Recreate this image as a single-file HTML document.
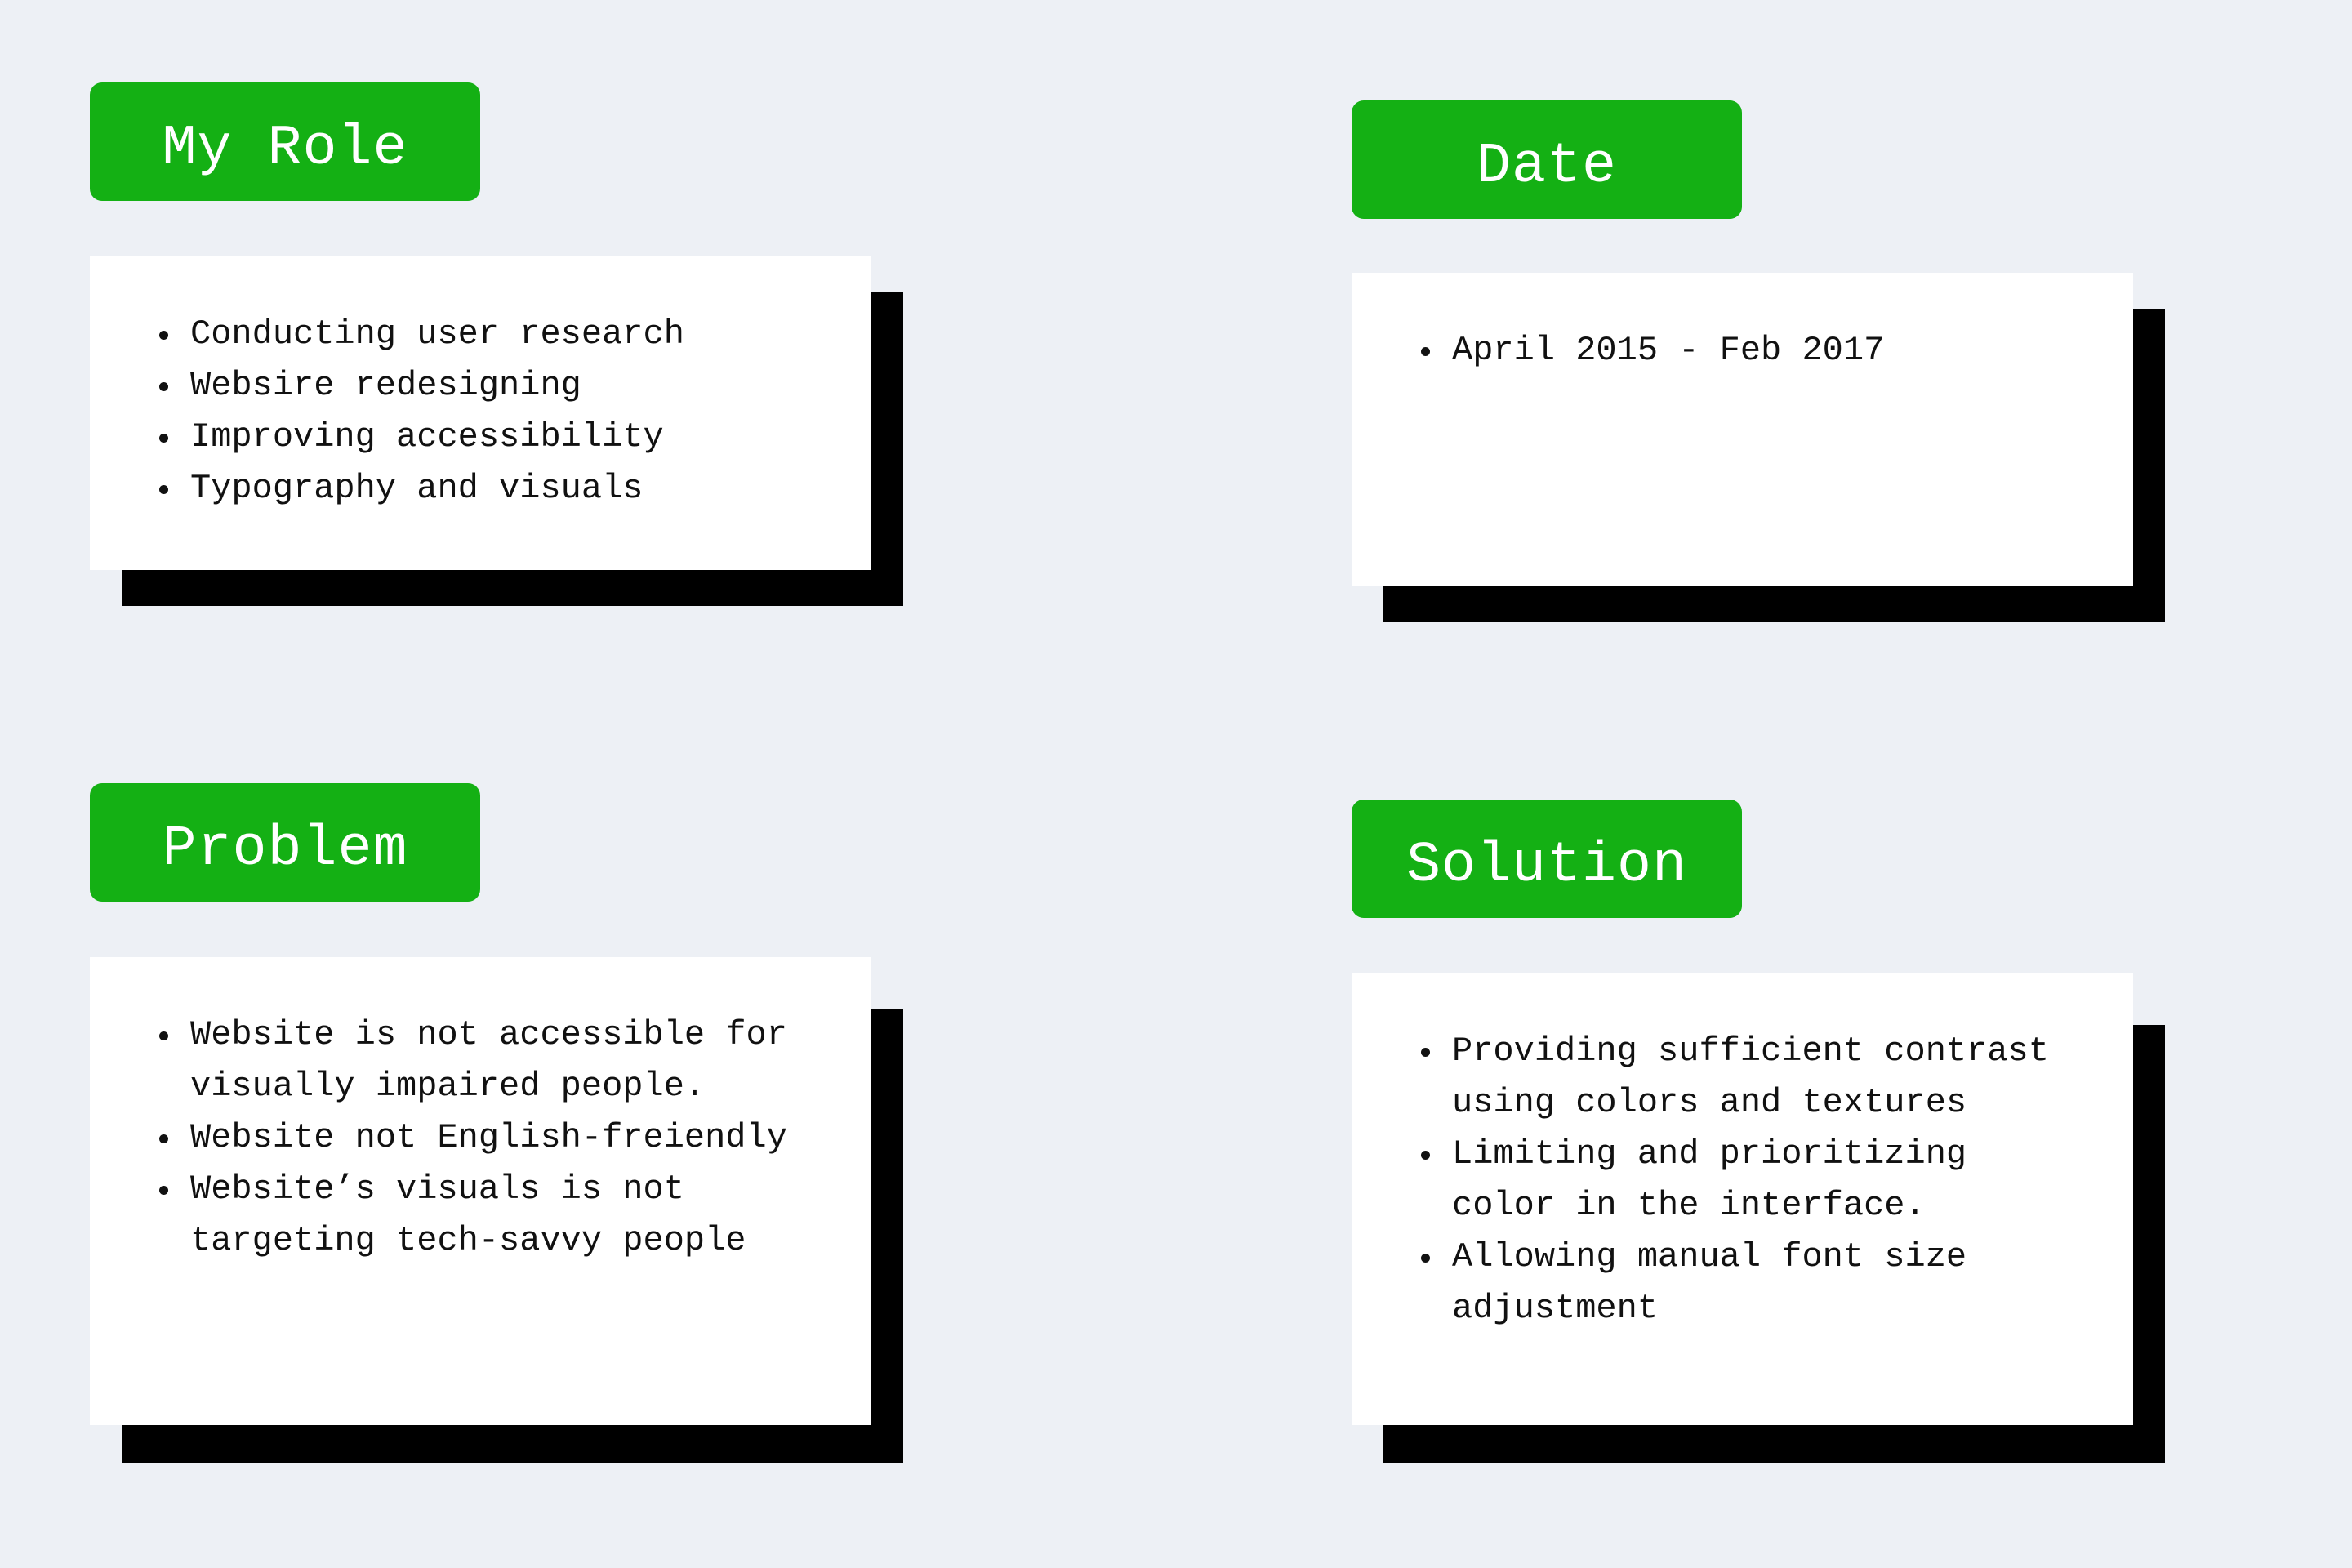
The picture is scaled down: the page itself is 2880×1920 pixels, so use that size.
<!DOCTYPE html>
<html><head><meta charset="utf-8"><style>
*{margin:0;padding:0;box-sizing:border-box}
body{width:2880px;height:1920px;background:#edf0f5;position:relative;overflow:hidden;font-family:"Liberation Mono",monospace}
.btn{position:absolute;width:478px;height:145px;background:#14b014;border-radius:15px;color:#fff;font-size:70px;display:flex;align-items:center;justify-content:center;letter-spacing:1px;padding-top:18px}
.sh{position:absolute;background:#000}
.card{position:absolute;background:#fff;width:957px}
ul{position:absolute;left:88px;top:64px;list-style:none;font-size:42px;line-height:63px;color:#111}
li{position:relative;padding-left:35px;white-space:pre}
li::before{content:"";position:absolute;left:-3px;top:27px;width:11px;height:11px;border-radius:50%;background:#111}
</style></head><body>
<div class="btn" style="left:110px;top:101px">My Role</div>
<div class="sh" style="left:149px;top:358px;width:957px;height:384px"></div>
<div class="card" style="left:110px;top:314px;height:384px"><ul>
<li>Conducting user research</li><li>Websire redesigning</li><li>Improving accessibility</li><li>Typography and visuals</li></ul></div>

<div class="btn" style="left:1655px;top:123px">Date</div>
<div class="sh" style="left:1694px;top:378px;width:957px;height:384px"></div>
<div class="card" style="left:1655px;top:334px;height:384px"><ul>
<li>April 2015 - Feb 2017</li></ul></div>

<div class="btn" style="left:110px;top:959px">Problem</div>
<div class="sh" style="left:149px;top:1236px;width:957px;height:555px"></div>
<div class="card" style="left:110px;top:1172px;height:573px"><ul>
<li>Website is not accessible for
visually impaired people.</li><li>Website not English-freiendly</li><li>Website’s visuals is not
targeting tech-savvy people</li></ul></div>

<div class="btn" style="left:1655px;top:979px">Solution</div>
<div class="sh" style="left:1694px;top:1255px;width:957px;height:536px"></div>
<div class="card" style="left:1655px;top:1192px;height:553px"><ul>
<li>Providing sufficient contrast
using colors and textures</li><li>Limiting and prioritizing
color in the interface.</li><li>Allowing manual font size
adjustment</li></ul></div>
</body></html>
